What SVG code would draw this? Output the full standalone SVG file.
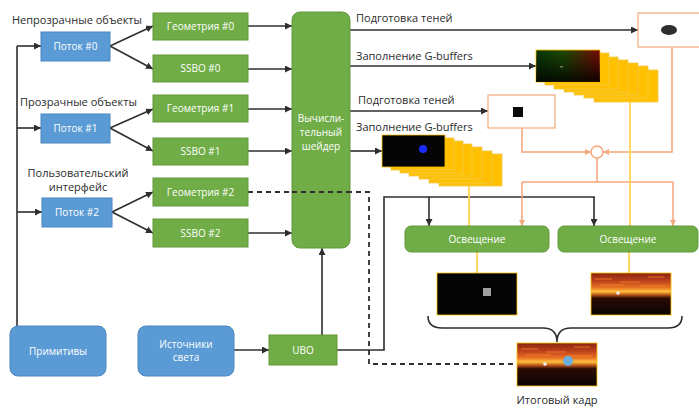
<svg xmlns="http://www.w3.org/2000/svg" width="699" height="408" viewBox="0 0 699 408">
  <defs>
    <style>
      .lbl { font-family: "Open Sans", "Noto Sans", "DejaVu Sans", sans-serif; font-size: 11px; fill: #2b2b2b; }
      .in { font-family: "Open Sans", "Noto Sans", "DejaVu Sans", sans-serif; font-size: 10px; fill: #ffffff; text-anchor: middle; }
      .blue { fill: #5B9BD5; stroke: #4a86bf; stroke-width: 1; }
      .green { fill: #70AD47; stroke: #62993d; stroke-width: 1; }
      .wire { fill: none; stroke: #2e2e2e; stroke-width: 1.6; }
      .dash { fill: none; stroke: #2e2e2e; stroke-width: 1.8; stroke-dasharray: 5 4; }
      .ow { fill: none; stroke: #F4A77A; stroke-width: 1.5; }
      .yw { fill: none; stroke: #FFD54F; stroke-width: 1.8; }
      .card { fill: #FFC000; stroke: #F0C850; stroke-width: 0.8; }
      .sbox { fill: #ffffff; stroke: #F4B183; stroke-width: 1.3; }
      .streak { stroke: #ff8a2a; stroke-width: 1; opacity: 0.7; }
    </style>
    <marker id="arr" viewBox="0 0 8 8" refX="8" refY="4" markerWidth="7" markerHeight="7" markerUnits="userSpaceOnUse" orient="auto">
      <path d="M0,0 L8,4 L0,8 z" fill="#2e2e2e"/>
    </marker>
    <marker id="arrO" viewBox="0 0 8 8" refX="8" refY="4" markerWidth="6" markerHeight="6" markerUnits="userSpaceOnUse" orient="auto">
      <path d="M0,0 L8,4 L0,8 z" fill="#F4A77A"/>
    </marker>
    <linearGradient id="gbufH" x1="0" y1="0" x2="1" y2="0">
      <stop offset="0" stop-color="#0a3a08"/>
      <stop offset="0.45" stop-color="#1f4a06"/>
      <stop offset="1" stop-color="#7a0a00"/>
    </linearGradient>
    <linearGradient id="gbufV" x1="0" y1="0" x2="0" y2="1">
      <stop offset="0" stop-color="#000" stop-opacity="0"/>
      <stop offset="1" stop-color="#000" stop-opacity="0.85"/>
    </linearGradient>
    <linearGradient id="sunset" x1="0" y1="0" x2="0" y2="1">
      <stop offset="0" stop-color="#8a2410"/>
      <stop offset="0.2" stop-color="#c0441c"/>
      <stop offset="0.35" stop-color="#e87424"/>
      <stop offset="0.44" stop-color="#ffc040"/>
      <stop offset="0.52" stop-color="#b85418"/>
      <stop offset="0.6" stop-color="#2a0c04"/>
      <stop offset="1" stop-color="#080302"/>
    </linearGradient>
  </defs>

  <rect width="699" height="408" fill="#ffffff"/>

  <!-- free-standing labels -->
  <text class="lbl" x="12" y="24">Непрозрачные объекты</text>
  <text class="lbl" x="20" y="106">Прозрачные объекты</text>
  <text class="lbl" x="78" y="177" text-anchor="middle">Пользовательский</text>
  <text class="lbl" x="78" y="191" text-anchor="middle">интерфейс</text>
  <text class="lbl" x="356" y="22">Подготовка теней</text>
  <text class="lbl" x="356" y="60">Заполнение G-buffers</text>
  <text class="lbl" x="358" y="104">Подготовка теней</text>
  <text class="lbl" x="356" y="131">Заполнение G-buffers</text>
  <text class="lbl" x="557" y="404" text-anchor="middle">Итоговый кадр</text>

  <!-- connectors -->
  <g id="connectors">
    <!-- primitives bus -->
    <path class="wire" d="M17,326 V46"/>
    <path class="wire" d="M17,46 H41" marker-end="url(#arr)"/>
    <path class="wire" d="M17,128 H41" marker-end="url(#arr)"/>
    <path class="wire" d="M17,212 H42" marker-end="url(#arr)"/>
    <!-- streams to buffers -->
    <path class="wire" d="M110,46 L153,26" marker-end="url(#arr)"/>
    <path class="wire" d="M110,46 L153,69" marker-end="url(#arr)"/>
    <path class="wire" d="M110,128 L153,109" marker-end="url(#arr)"/>
    <path class="wire" d="M110,128 L153,151" marker-end="url(#arr)"/>
    <path class="wire" d="M112,212 L153,192" marker-end="url(#arr)"/>
    <path class="wire" d="M112,212 L153,233" marker-end="url(#arr)"/>
    <!-- buffers to compute shader -->
    <path class="wire" d="M248,26 H292" marker-end="url(#arr)"/>
    <path class="wire" d="M248,69 H292" marker-end="url(#arr)"/>
    <path class="wire" d="M248,109 H292" marker-end="url(#arr)"/>
    <path class="wire" d="M248,151 H292" marker-end="url(#arr)"/>
    <path class="wire" d="M248,233 H292" marker-end="url(#arr)"/>
    <!-- light sources -> UBO -> shader -->
    <path class="wire" d="M234,350 H269" marker-end="url(#arr)"/>
    <path class="wire" d="M322,335 V248" marker-end="url(#arr)"/>
    <path class="wire" d="M337,350 H384 V197 H595"/>
    <path class="wire" d="M429,197 V226" marker-end="url(#arr)"/>
    <path class="wire" d="M594,197 V226" marker-end="url(#arr)"/>
    <!-- shader outputs -->
    <path class="wire" d="M350,30 H638" marker-end="url(#arr)"/>
    <path class="wire" d="M350,66 H536" marker-end="url(#arr)"/>
    <path class="wire" d="M350,111 H488" marker-end="url(#arr)"/>
    <path class="wire" d="M350,151 H382" marker-end="url(#arr)"/>
    <!-- shadow maps (orange) -->
    <path class="ow" d="M672,47 V152 H603" marker-end="url(#arrO)"/>
    <path class="ow" d="M522,128 V152 H591" marker-end="url(#arrO)"/>
    <path class="ow" d="M597,158 V182"/>
    <path class="ow" d="M522,182 H673"/>
    <path class="ow" d="M522,182 V226" marker-end="url(#arrO)"/>
    <path class="ow" d="M673,182 V226" marker-end="url(#arrO)"/>
    <circle cx="597" cy="152" r="6" fill="#ffffff" stroke="#F4A77A" stroke-width="1.5"/>
    <!-- G-buffers to lighting (yellow) -->
    <path class="yw" d="M469,186 V226"/>
    <path class="yw" d="M630,102 V226"/>
    <path class="yw" d="M477,252 V273"/>
    <path class="yw" d="M629,252 V273"/>
    <!-- UI geometry bypass (dashed) -->
    <path class="dash" d="M248,192 H369 V364 H517"/>
    <!-- composition brace -->
    <path class="wire" d="M428,316 Q428,328 442,328 H543 Q557,328 557,342 Q557,328 571,328 H668 Q682,328 682,316"/>
  </g>

  <!-- stream nodes -->
  <g id="stream0"><rect class="blue" x="41" y="32" width="69" height="29"/><text class="in" x="75.5" y="50">Поток #0</text></g>
  <g id="stream1"><rect class="blue" x="41" y="114" width="69" height="29"/><text class="in" x="75.5" y="132">Поток #1</text></g>
  <g id="stream2"><rect class="blue" x="42" y="198" width="70" height="29"/><text class="in" x="77" y="216">Поток #2</text></g>

  <!-- buffer nodes -->
  <g id="geom0"><rect class="green" x="153" y="13" width="95" height="27"/><text class="in" x="200.5" y="30">Геометрия #0</text></g>
  <g id="ssbo0"><rect class="green" x="153" y="55" width="95" height="27"/><text class="in" x="200.5" y="72">SSBO #0</text></g>
  <g id="geom1"><rect class="green" x="153" y="95" width="95" height="27"/><text class="in" x="200.5" y="112">Геометрия #1</text></g>
  <g id="ssbo1"><rect class="green" x="153" y="138" width="95" height="27"/><text class="in" x="200.5" y="155">SSBO #1</text></g>
  <g id="geom2"><rect class="green" x="153" y="178" width="95" height="28"/><text class="in" x="200.5" y="196">Геометрия #2</text></g>
  <g id="ssbo2"><rect class="green" x="153" y="219" width="95" height="28"/><text class="in" x="200.5" y="237">SSBO #2</text></g>

  <!-- compute shader -->
  <g id="compute">
    <rect class="green" x="292" y="12" width="58" height="236" rx="8"/>
    <text class="in" x="321" y="122">Вычисли-</text>
    <text class="in" x="321" y="136">тельный</text>
    <text class="in" x="321" y="150">шейдер</text>
  </g>
  <!-- dashed bypass drawn over the shader -->
  <path class="dash" d="M292,192 H350"/>

  <!-- bottom inputs -->
  <g id="primitives"><rect class="blue" x="10" y="326" width="96" height="50" rx="8"/><text class="in" x="58" y="355">Примитивы</text></g>
  <g id="lights"><rect class="blue" x="138" y="326" width="96" height="50" rx="8"/><text class="in" x="186" y="348">Источники</text><text class="in" x="186" y="361">света</text></g>
  <g id="ubo"><rect class="green" x="269" y="335" width="68" height="30"/><text class="in" x="303" y="354">UBO</text></g>

  <!-- shadow maps -->
  <g id="shadow0"><rect class="sbox" x="638" y="13" width="70" height="34"/><ellipse cx="669" cy="30" rx="8" ry="5" fill="#2e2e2e"/></g>
  <g id="shadow1"><rect class="sbox" x="488" y="95" width="67" height="33"/><rect x="513" y="107" width="10" height="10" fill="#0a0a0a"/></g>

  <!-- G-buffer stack (opaque) -->
  <g id="gbuf0">
    <rect class="card" x="594" y="70" width="64" height="32"/>
    <rect class="card" x="584" y="66" width="64" height="32"/>
    <rect class="card" x="574" y="63" width="64" height="32"/>
    <rect class="card" x="564" y="60" width="64" height="32"/>
    <rect class="card" x="554" y="57" width="64" height="32"/>
    <rect class="card" x="545" y="53" width="64" height="32"/>
    <rect x="536" y="50" width="64" height="32" fill="url(#gbufH)" stroke="#FFC000" stroke-width="0.8"/>
    <rect x="536" y="50" width="64" height="32" fill="url(#gbufV)"/>
    <rect x="560" y="66" width="3" height="1.5" fill="#6a7a5a"/>
  </g>

  <!-- G-buffer stack (transparent) -->
  <g id="gbuf1">
    <rect class="card" x="439" y="154" width="63" height="32"/>
    <rect class="card" x="429" y="151" width="63" height="32"/>
    <rect class="card" x="419" y="147" width="63" height="32"/>
    <rect class="card" x="409" y="144" width="63" height="32"/>
    <rect class="card" x="400" y="141" width="63" height="32"/>
    <rect class="card" x="391" y="138" width="63" height="32"/>
    <rect x="382" y="135" width="63" height="32" fill="#050505" stroke="#FFC000" stroke-width="0.8"/>
    <circle cx="423" cy="149" r="4" fill="#1a2cff"/>
  </g>

  <!-- lighting passes -->
  <g id="light0"><rect class="green" x="405" y="226" width="144" height="26" rx="6"/><text class="in" x="477" y="243">Освещение</text></g>
  <g id="light1"><rect class="green" x="558" y="226" width="140" height="26" rx="6"/><text class="in" x="628" y="243">Освещение</text></g>

  <!-- pass results -->
  <g id="result0"><rect x="437" y="273" width="80" height="42" fill="#050505" stroke="#FFC000" stroke-width="0.8"/><rect x="483" y="288" width="8" height="8" fill="#a0a0a0"/></g>
  <g id="result1">
    <rect x="591" y="273" width="80" height="42" fill="url(#sunset)" stroke="#FFC000" stroke-width="0.8"/>
    <path class="streak" d="M595,279 H612 M620,282 H640 M648,277 H664 M600,285 H625 M640,286 H666"/>
    <circle cx="618" cy="293" r="1.8" fill="#f0f0f0"/>
  </g>

  <!-- final frame -->
  <g id="final">
    <rect x="517" y="343" width="80" height="43" fill="url(#sunset)" stroke="#FFC000" stroke-width="0.8"/>
    <path class="streak" d="M521,349 H538 M546,352 H566 M574,347 H590 M526,355 H551 M566,356 H592"/>
    <circle cx="568" cy="361" r="5" fill="#6aaee0"/>
    <circle cx="545" cy="364" r="1.8" fill="#f0f0f0"/>
  </g>
</svg>
